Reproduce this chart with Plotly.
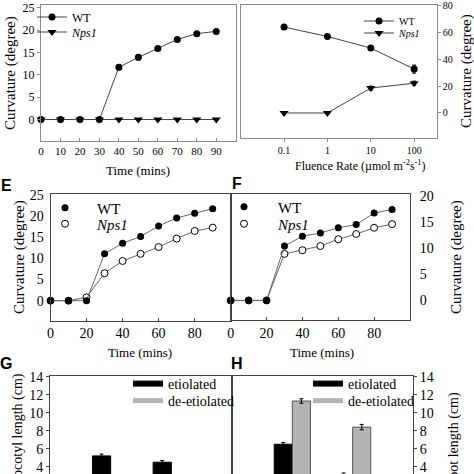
import plotly.graph_objects as go

W = 474
def X(p): return p / W
def Y(p): return 1 - p / W

SERIF = "Liberation Serif"
SANS = "Liberation Sans"

# ---- Panel A: curvature vs time ----
timeA = [0, 10, 20, 30, 40, 50, 60, 70, 80, 90]
wtA = [0, 0, 0, 0, 11.7, 13.9, 15.9, 17.9, 19.2, 19.7]
wtA_err = [0, 0, 0, 0, 0.6, 0.6, 0.4, 0.3, 0.3, 0.3]
npsA = [0, 0, 0, 0, 0, 0, 0, 0, 0, 0]
timeA_ticks = [0, 10, 20, 30, 40, 50, 60, 70, 80, 90]
curvA_ticks = [0, 5, 10, 15, 20, 25]

# ---- Panel B: curvature vs fluence rate ----
fluence = [0.1, 1, 10, 100]
fluence_labels = ["0.1", "1", "10", "100"]
wtB = [64.2, 57.2, 48.5, 32.8]
wtB_err = [1.5, 1.5, 1.0, 3.0]
npsB = [0, 0, 18.6, 22.3]
npsB_err = [0, 0, 1.5, 1.5]

# ---- Panel E / F ----
timeEF = [0, 10, 20, 30, 40, 50, 60, 70, 80, 90]
wtE = [0, 0, 0, 11.1, 13.6, 15.2, 17.7, 19.6, 20.7, 21.8]
npsE = [0, 0, 0.8, 6.5, 9.4, 11.1, 12.7, 14.7, 16.5, 17.3]
npsE_err = [0, 0, 0, 0.5, 0, 0, 0, 0, 0, 0]
wtF = [0, 0, 0, 10.4, 12.3, 12.9, 13.9, 14.5, 16.7, 17.4]
npsF = [0, 0, 0, 8.9, 9.6, 10.4, 11.7, 12.7, 13.9, 14.6]

# ---- Panel G / H: bars ----
groups = [1, 2]
etioG = [5.2, 4.5]
etioG_err = [0.2, 0.2]
deetioG = [1.1, 1.0]
deetioG_err = [0.1, 0.1]
etioH = [6.5, 3.1]
etioH_err = [0.2, 0.2]
deetioH = [11.3, 8.4]
deetioH_err = [0.25, 0.3]

LINE = "#444444"
FRAME_LIGHT = "#8a8a8a"
FRAME = "#444444"
GRAY = "#b4b4b4"

fig = go.Figure()

def err(arr):
    return dict(type="data", array=arr, visible=True, width=2, thickness=1, color="black")

# Panel A
fig.add_trace(go.Scatter(x=timeA, y=wtA, error_y=err(wtA_err), mode="lines+markers", name="WT",
                         line=dict(color=LINE, width=1), marker=dict(symbol="circle", size=7, color="black"),
                         xaxis="x", yaxis="y", legend="legend", cliponaxis=False))
fig.add_trace(go.Scatter(x=timeA, y=npsA, mode="lines+markers", name="<i>Nps1</i>",
                         line=dict(color=LINE, width=1), marker=dict(symbol="triangle-down", size=8, color="black"),
                         xaxis="x", yaxis="y", legend="legend2", cliponaxis=False))
# Panel B
fig.add_trace(go.Scatter(x=fluence, y=wtB, error_y=err(wtB_err), mode="lines+markers", name="WT",
                         line=dict(color=LINE, width=1), marker=dict(symbol="circle", size=7, color="black"),
                         xaxis="x2", yaxis="y2", legend="legend3", cliponaxis=False))
fig.add_trace(go.Scatter(x=fluence, y=npsB, error_y=err(npsB_err), mode="lines+markers", name="<i>Nps1</i>",
                         line=dict(color=LINE, width=1), marker=dict(symbol="triangle-down", size=8, color="black"),
                         xaxis="x2", yaxis="y2", legend="legend4", cliponaxis=False))

OPEN = dict(symbol="circle", size=7, color="white", line=dict(color="black", width=1))
FILLED = dict(symbol="circle", size=7, color="black")
# Panels E and F
for xa, ya, wt, nps, nerr, lw, ln in [("x3", "y3", wtE, npsE, npsE_err, "legend5", "legend6"),
                                      ("x4", "y4", wtF, npsF, None, "legend7", "legend8")]:
    fig.add_trace(go.Scatter(x=timeEF, y=nps, error_y=err(nerr) if nerr else None, mode="lines+markers",
                             line=dict(color="#666666", width=1), marker=OPEN, showlegend=False,
                             xaxis=xa, yaxis=ya, cliponaxis=False))
    fig.add_trace(go.Scatter(x=timeEF, y=wt, mode="lines+markers", line=dict(color="#666666", width=1),
                             marker=FILLED, showlegend=False, xaxis=xa, yaxis=ya, cliponaxis=False))
    # legend-only entries (markers without line, as in the original legend)
    fig.add_trace(go.Scatter(x=[None], y=[None], mode="markers", name="WT", marker=FILLED,
                             xaxis=xa, yaxis=ya, legend=lw))
    fig.add_trace(go.Scatter(x=[None], y=[None], mode="markers", name="<i>Nps1</i>", marker=OPEN,
                             xaxis=xa, yaxis=ya, legend=ln))

# Panels G / H bars
for xa, ya, et, ete, de, dee, lg1, lg2 in [("x5", "y5", etioG, etioG_err, deetioG, deetioG_err, "legend9", "legend10"),
                                            ("x6", "y6", etioH, etioH_err, deetioH, deetioH_err, "legend11", "legend12")]:
    fig.add_trace(go.Bar(x=groups, y=et, width=0.3, offset=-0.3, error_y=err(ete),
                         marker=dict(color="black", line=dict(color="black", width=1)),
                         showlegend=False, xaxis=xa, yaxis=ya))
    fig.add_trace(go.Bar(x=groups, y=de, width=0.3, offset=0.0, error_y=err(dee),
                         marker=dict(color=GRAY, line=dict(color="#555555", width=1)),
                         showlegend=False, xaxis=xa, yaxis=ya))
    fig.add_trace(go.Scatter(x=[None], y=[None], mode="lines", name="etiolated",
                             line=dict(color="black", width=6), xaxis=xa, yaxis=ya, legend=lg1))
    fig.add_trace(go.Scatter(x=[None], y=[None], mode="lines", name="de-etiolated",
                             line=dict(color=GRAY, width=5), xaxis=xa, yaxis=ya, legend=lg2))

def leg(xpx, ypx, size, iw=30):
    return dict(x=X(xpx), y=Y(ypx), xanchor="left", yanchor="middle", bgcolor="rgba(0,0,0,0)",
                borderwidth=0, font=dict(family=SERIF, size=size, color="black"), itemwidth=iw)

def axbase(**kw):
    d = dict(showgrid=False, zeroline=False, showline=True, mirror=True, linecolor=FRAME, linewidth=1,
             tickfont=dict(family=SERIF, size=13, color="black"), tickcolor=FRAME, ticklen=3,
             ticklabeloverflow="allow")
    d.update(kw)
    return d

layout = dict(
    width=474, height=474, margin=dict(l=0, r=0, t=0, b=0, pad=0, autoexpand=False),
    paper_bgcolor="white", plot_bgcolor="white", barmode="overlay",
    xaxis=axbase(domain=[X(41), X(235.7)], range=[0, 100], tickvals=timeA_ticks, ticks="inside",
                 linecolor=FRAME_LIGHT, tickcolor=FRAME_LIGHT,
                 tickfont=dict(family=SERIF, size=11, color="black"), anchor="y"),
    yaxis=axbase(domain=[Y(141), Y(5)], range=[-4.8, 25.6], tickvals=curvA_ticks, ticks="outside",
                 linecolor=FRAME_LIGHT, tickcolor=FRAME_LIGHT,
                 tickfont=dict(family=SERIF, size=12, color="black"), anchor="x"),
    xaxis2=axbase(domain=[X(240.7), X(436.7)], type="log", range=[-2, 2.52], tickvals=fluence,
                  linecolor=FRAME_LIGHT, tickcolor=FRAME_LIGHT,
                  ticktext=fluence_labels, ticks="outside", tickfont=dict(family=SERIF, size=10, color="black"),
                  anchor="y2"),
    yaxis2=axbase(domain=[Y(138), Y(5)], range=[-18.7, 80.7], dtick=20, side="right", ticks="outside",
                  linecolor=FRAME_LIGHT, tickcolor=FRAME_LIGHT,
                  tickfont=dict(family=SERIF, size=10, color="black"), anchor="x2"),
    xaxis3=axbase(domain=[X(50.5), X(230.7)], range=[0, 100], tickvals=[0, 20, 40, 60, 80], ticks="inside",
                  tickfont=dict(family=SERIF, size=14, color="black"), anchor="y3"),
    yaxis3=axbase(domain=[Y(320.5), Y(194.3)], range=[-4.7, 25.2], dtick=5, ticks="", ticklabelstandoff=3,
                  tickfont=dict(family=SERIF, size=14, color="black"), anchor="x3"),
    xaxis4=axbase(domain=[X(230.7), X(410)], range=[0, 100], tickvals=[0, 20, 40, 60, 80], ticks="inside",
                  tickfont=dict(family=SERIF, size=14, color="black"), anchor="y4"),
    yaxis4=axbase(domain=[Y(320.3), Y(194.3)], range=[-3.8, 20.3], dtick=5, side="right", ticks="",
                  ticklabelstandoff=6, tickfont=dict(family=SERIF, size=14, color="black"), anchor="x4"),
    xaxis5=axbase(domain=[X(50), X(232)], range=[0, 3], side="top", mirror=False, showticklabels=False,
                  ticks="", anchor="y5"),
    yaxis5=axbase(domain=[0, Y(376)], range=[3.19, 14.08], dtick=2, ticks="outside",
                  tickfont=dict(family=SERIF, size=14, color="black"), anchor="x5"),
    xaxis6=axbase(domain=[X(232), X(413)], range=[0, 3], side="top", mirror=False, showticklabels=False,
                  ticks="", anchor="y6"),
    yaxis6=axbase(domain=[0, Y(376)], range=[3.19, 14.08], dtick=2, side="right", ticks="outside",
                  tickfont=dict(family=SERIF, size=14, color="black"), anchor="x6"),
    legend=leg(32, 17, 12),
    legend2=leg(32, 32, 12),
    legend3=leg(359, 21, 10),
    legend4=leg(359, 33, 10),
    legend5=leg(33, 208, 15, 54),
    legend6=leg(33, 224, 15, 54),
    legend7=leg(210, 207, 15, 58),
    legend8=leg(210, 224, 15, 58),
    legend9=leg(128, 384, 14),
    legend10=leg(128, 401, 14),
    legend11=leg(308, 384, 14),
    legend12=leg(308, 401, 14),
)
fig.update_layout(**layout)

def ann(text, xpx, ypx, size, angle=0, family=SERIF, bold=False):
    if bold:
        text = "<b>" + text + "</b>"
    fig.add_annotation(text=text, x=X(xpx), y=Y(ypx), xref="paper", yref="paper", showarrow=False,
                       textangle=angle, xanchor="center", yanchor="middle",
                       font=dict(family=family, size=size, color="black"))

# axis titles
ann("Curvature (degree)", 10, 73, 15, -90)
ann("Time (mins)", 138, 170, 13)
ann("Fluence Rate (µmol m<sup>-2</sup>s<sup>-1</sup>)", 360, 165, 12)
ann("Curvature (degree)", 466, 71, 15, -90)
ann("Curvature (degree)", 19, 257, 15, -90)
ann("Time (mins)", 140, 352, 13)
ann("Curvature (degree)", 456, 257, 15, -90)
ann("Time (mins)", 322, 352, 13)
ann("Hypocotyl length (cm)", 18, 437, 14, -90)
ann("Root length (cm)", 454, 440, 14, -90)
# panel letters
ann("E", 6, 185, 16, family=SANS, bold=True)
ann("F", 237, 184, 16, family=SANS, bold=True)
ann("G", 6, 363, 16, family=SANS, bold=True)
ann("H", 237, 363, 16, family=SANS, bold=True)

fig.write_html("out.html", config={"displayModeBar": False},
               post_script="document.body.style.margin='0';document.body.style.overflow='hidden';")
